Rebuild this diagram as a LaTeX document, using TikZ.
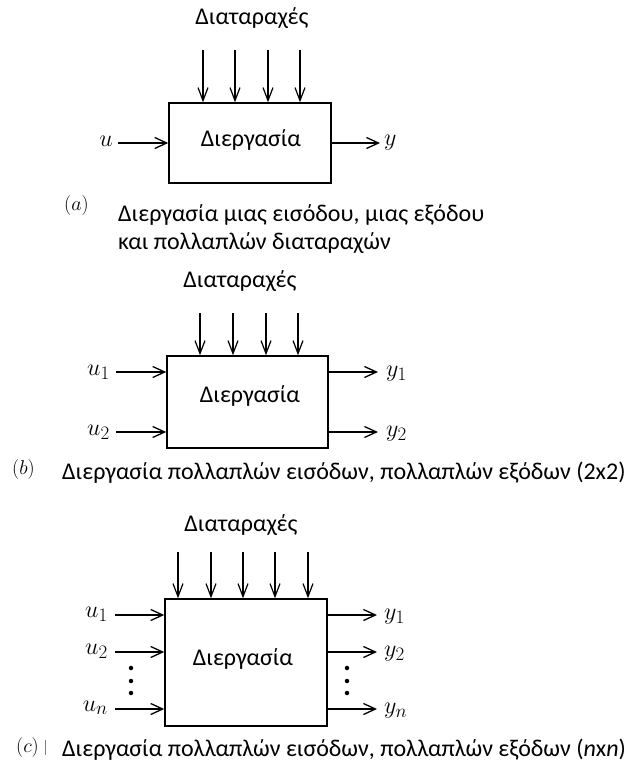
\documentclass[tikz,border=0pt]{standalone}
\usepackage{fix-cm}
\usepackage{fontspec}
\setmainfont{Carlito}
\DeclareMathSizes{24}{24}{19}{15}
\usetikzlibrary{arrows.meta}
\begin{document}
\begin{tikzpicture}[x=1pt,y=-1pt,
  lbl/.style={font=\fontsize{24}{28}\selectfont, inner sep=0pt},
  mathlbl/.style={font=\fontsize{24}{28}\selectfont, inner sep=0pt},
  tag/.style={font=\fontsize{20}{24}\selectfont, inner sep=0pt},
  procbox/.style={draw, line width=1.5pt, inner sep=0pt},
  sig/.style={line width=1.9pt, -{Straight Barb[length=12pt,width=11pt,line width=1.3pt]}},
  dist/.style={line width=1.4pt, -{Straight Barb[length=13pt,width=10pt,line width=1.2pt]}},
  dot/.style={circle, fill=black, inner sep=0pt, minimum size=4.5pt}]
\useasboundingbox (0,0) rectangle (630,767);

% ---------- (a) ----------
\node[lbl] (da) at (252,18) {Διαταραχές};
\node[procbox, minimum width=162pt, minimum height=80pt] (pa) at (250,143) {};
\node[lbl] (pat) at (251,140) {Διεργασία};
\foreach \i/\x in {1/203,2/235,3/268,4/300}{
  \coordinate (dat\i) at (\x,50);
  \draw[dist] (dat\i) -- (dat\i |- pa.north);
}
\node[mathlbl, anchor=east] (ua) at (113,141) {$u$};
\coordinate (uas) at (118,143);
\draw[sig] (uas) -- (uas -| pa.west);
\coordinate (yae) at (380,143);
\draw[sig] (yae -| pa.east) -- (yae);
\node[mathlbl, anchor=west] (ya) at (384,143) {$y$};
\node[tag, anchor=west] (taga) at (64,206) {$(a)$};
\node[lbl, anchor=west] (capa1) at (118,215) {Διεργασία μιας εισόδου, μιας εξόδου};
\node[lbl, anchor=west] (capa2) at (118,243) {και πολλαπλών διαταραχών};

% ---------- (b) ----------
\node[lbl] (db) at (240,281) {Διαταραχές};
\node[procbox, minimum width=161pt, minimum height=92pt] (pb) at (247.5,402) {};
\node[lbl] (pbt) at (250,396) {Διεργασία};
\foreach \i/\x in {1/200,2/233,3/266,4/298}{
  \coordinate (dbt\i) at (\x,313);
  \draw[dist] (dbt\i) -- (dbt\i |- pb.north);
}
\foreach \i/\y in {1/372,2/432}{
  \coordinate (ubs\i) at (116,\y);
  \draw[sig] (ubs\i) -- (ubs\i -| pb.west);
  \node[mathlbl, anchor=east] (ub\i) at (110,\y) {$u_{\i}$};
  \coordinate (ybe\i) at (378,\y);
  \draw[sig] (ybe\i -| pb.east) -- (ybe\i);
  \node[mathlbl, anchor=west] (yb\i) at (386,\y+2) {$y_{\i}$};
}
\node[tag, anchor=west] (tagb) at (12,469) {$(b)$};
\node[lbl, anchor=west] (capb) at (62,473) {Διεργασία πολλαπλών εισόδων, πολλαπλών εξόδων (2x2)};

% ---------- (c) ----------
\node[lbl] (dc) at (241,525) {Διαταραχές};
\node[procbox, minimum width=162pt, minimum height=127pt] (pc) at (246,662.5) {};
\node[lbl] (pct) at (243,659) {Διεργασία};
\foreach \i/\x in {1/178,2/211,3/243,4/275,5/308}{
  \coordinate (dct\i) at (\x,552);
  \draw[dist] (dct\i) -- (dct\i |- pc.north);
}
\foreach \i/\y/\s in {1/615/1,2/652/2,3/709/n}{
  \coordinate (ucs\i) at (115,\y);
  \draw[sig] (ucs\i) -- (ucs\i -| pc.west);
  \node[mathlbl, anchor=east] (uc\i) at (108,\y-1) {$u_{\s}$};
  \coordinate (yce\i) at (377,\y);
  \draw[sig] (yce\i -| pc.east) -- (yce\i);
  \node[mathlbl, anchor=west] (yc\i) at (384,\y+2) {$y_{\s}$};
}
\foreach \j/\y in {1/668,2/681,3/693}{
  \node[dot] (ldot\j) at (131,\y) {};
  \node[dot] (rdot\j) at (347,\y) {};
}
\node[tag, anchor=west] (tagc) at (16,747) {$(c)$};
\draw[line width=0.6pt, gray] (45,740) -- (45,755);
\node[lbl, anchor=west] (capc) at (62,750) {Διεργασία πολλαπλών εισόδων, πολλαπλών εξόδων (\textit{n}x\textit{n})};
\end{tikzpicture}
\end{document}
